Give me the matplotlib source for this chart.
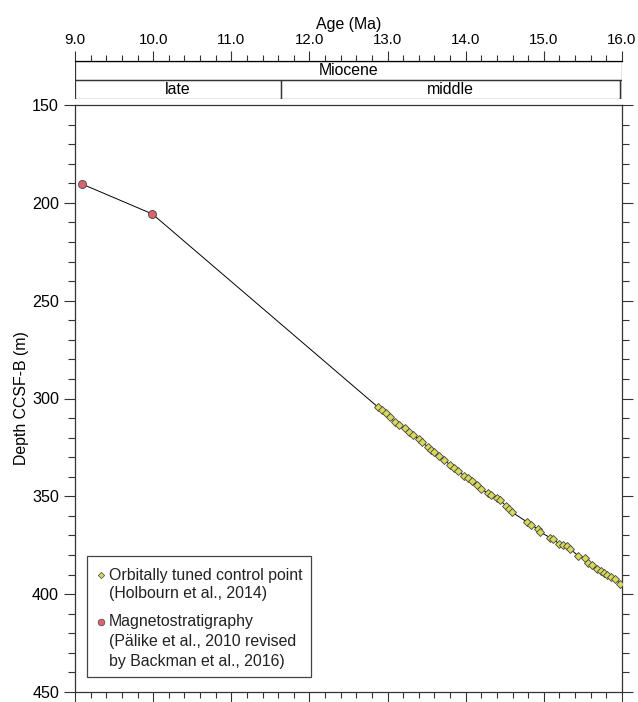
import numpy as np
import matplotlib.pyplot as plt
from matplotlib.patches import Rectangle
from matplotlib.ticker import MultipleLocator

plt.rcParams['font.family'] = ['Liberation Sans', 'DejaVu Sans']

# magnetostratigraphy points (age Ma, depth m)
mag_age = [9.09, 9.99]
mag_depth = [190.4, 205.7]

# orbitally tuned control points
orb_age = [12.88, 12.93, 12.98, 13.03, 13.09, 13.14, 13.22, 13.28, 13.33, 13.40,
           13.44, 13.52, 13.56, 13.60, 13.66, 13.72, 13.80, 13.85, 13.90, 13.98,
           14.03, 14.08, 14.14, 14.20, 14.28, 14.32, 14.40, 14.44, 14.52, 14.56,
           14.59, 14.78, 14.84, 14.92, 14.95, 15.08, 15.12, 15.20, 15.24, 15.29,
           15.33, 15.44, 15.53, 15.57, 15.61, 15.68, 15.73, 15.77, 15.81, 15.86,
           15.91, 15.98]
orb_depth = [304.5, 305.9, 307.3, 309.3, 311.9, 313.6, 315.3, 317.0, 318.8, 320.6,
             322.1, 325.0, 326.3, 327.5, 329.4, 331.2, 334.0, 335.6, 337.0, 339.5,
             340.6, 342.3, 344.0, 346.1, 348.4, 349.2, 351.0, 352.0, 355.0, 356.7,
             358.0, 363.0, 364.5, 366.7, 368.2, 371.1, 371.9, 374.4, 374.9, 375.6,
             376.7, 380.4, 381.6, 384.3, 385.1, 387.1, 388.0, 389.4, 390.2, 391.4,
             392.2, 394.7]

# time scale
epoch = ('Miocene', 9.0, 16.0)
subepochs = [('late', 9.0, 11.63), ('middle', 11.63, 15.97), ('', 15.97, 16.0)]

fs = 11.4
fig = plt.figure(figsize=(6.38, 7.02), dpi=100)
ax = fig.add_axes([75/638, 1-692/702, 547/638, 587/702])
axt = fig.add_axes([75/638, 1-99/702, 547/638, 38/702])

# main line + points
ax.plot(mag_age + orb_age, mag_depth + orb_depth, color='black', lw=0.7, zorder=2)
ax.plot(orb_age, orb_depth, ls='none', marker='D', ms=4.2, mfc='#d8d85a',
        mec='#444444', mew=0.6, zorder=3)
ax.plot(mag_age, mag_depth, ls='none', marker='o', ms=5.8, mfc='#d9646c',
        mec='#444444', mew=0.6, zorder=3)

ax.set_xlim(9.0, 16.0)
ax.set_ylim(450, 150)
ax.yaxis.set_major_locator(MultipleLocator(50))
ax.yaxis.set_minor_locator(MultipleLocator(10))
ax.xaxis.set_major_locator(MultipleLocator(1))
ax.xaxis.set_minor_locator(MultipleLocator(0.2))
ax.tick_params(axis='y', which='both', direction='out', left=True, right=True,
               labelsize=11.6, width=0.8, color='#333333')
ax.tick_params(axis='y', which='major', length=8)
ax.tick_params(axis='y', which='minor', length=5)
ax.tick_params(axis='x', which='both', direction='out', bottom=True, top=False,
               labelbottom=False, width=0.8, color='#333333')
ax.tick_params(axis='x', which='major', length=7)
ax.tick_params(axis='x', which='minor', length=4)
ax.set_ylabel('Depth CCSF-B (m)', fontsize=fs, labelpad=2)
for s in ax.spines.values():
    s.set_linewidth(0.9)
    s.set_color('#333333')

# legend drawn by hand so markers sit on the first line
ax.add_patch(Rectangle((0.0214, 0.0256), 0.4096, 0.2061, transform=ax.transAxes,
                       fill=False, ec='#444444', lw=0.9, zorder=4))
ax.plot([0.0475], [0.1993], transform=ax.transAxes, ls='none', marker='D', ms=3.2,
        mfc='#d8d85a', mec='#444444', mew=0.5, zorder=5, clip_on=False)
ax.plot([0.0475], [0.1193], transform=ax.transAxes, ls='none', marker='o', ms=4.8,
        mfc='#d9646c', mec='#444444', mew=0.5, zorder=5, clip_on=False)
leg_lines = [('Orbitally tuned control point', 0.1993),
             ('(Holbourn et al., 2014)', 0.167),
             ('Magnetostratigraphy', 0.1193),
             ('(Pälike et al., 2010 revised', 0.0857),
             ('by Backman et al., 2016)', 0.0528)]
for txt, yy in leg_lines:
    ax.text(0.0622, yy, txt, transform=ax.transAxes, fontsize=fs, va='center',
            ha='left', color='#222222', zorder=5)

# time scale bar
axt.set_xlim(9.0, 16.0)
axt.set_ylim(0, 2)
axt.add_patch(Rectangle((epoch[1], 1), epoch[2]-epoch[1], 1, fill=False,
                        ec='#333333', lw=0.9))
axt.text((epoch[1]+epoch[2])/2, 1.5, epoch[0], ha='center', va='center', fontsize=fs)
for name, a0, a1 in subepochs:
    axt.add_patch(Rectangle((a0, 0), a1-a0, 1, fill=False, ec='#333333', lw=0.9))
    if name:
        axt.text((a0+a1)/2, 0.5, name, ha='center', va='center', fontsize=fs)
for s in axt.spines.values():
    s.set_visible(False)
axt.spines['top'].set_visible(True)
axt.spines['top'].set_linewidth(0.9)
axt.set_yticks([])
axt.xaxis.set_major_locator(MultipleLocator(1))
axt.xaxis.set_minor_locator(MultipleLocator(0.2))
axt.xaxis.set_major_formatter(plt.FuncFormatter(lambda v, p: f'{v:.1f}'))
axt.tick_params(axis='x', which='both', direction='out', bottom=False, top=True,
                labelbottom=False, labeltop=True, labelsize=10.8, width=0.8,
                color='#333333')
axt.tick_params(axis='x', which='major', length=7, pad=3)
axt.tick_params(axis='x', which='minor', length=4)
axt.xaxis.set_label_position('top')
axt.set_xlabel('Age (Ma)', fontsize=fs, labelpad=3)

fig.savefig('out.png', dpi=100)
